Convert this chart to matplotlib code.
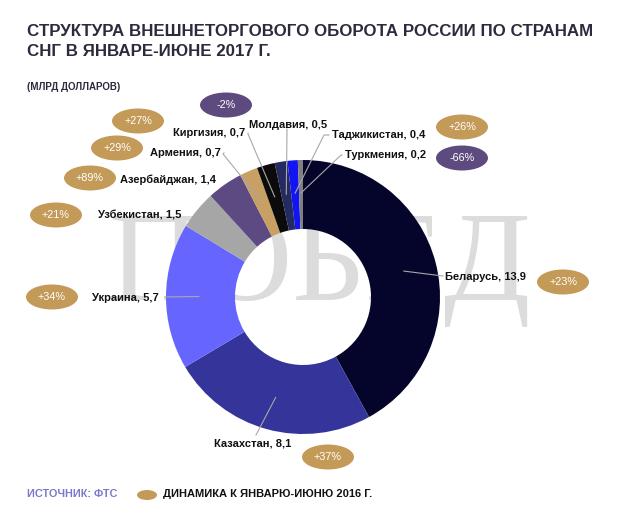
import matplotlib
matplotlib.use("Agg")
import numpy as np
import matplotlib.pyplot as plt
from matplotlib.patches import Ellipse

plt.rcParams['font.family'] = ['Liberation Sans', 'DejaVu Sans']

W, H = 640, 509

countries = ['Беларусь', 'Казахстан', 'Украина', 'Узбекистан', 'Азербайджан',
             'Армения', 'Киргизия', 'Молдавия', 'Таджикистан', 'Туркмения']
values = [13.9, 8.1, 5.7, 1.5, 1.4, 0.7, 0.7, 0.5, 0.4, 0.2]
changes = ['+23%', '+37%', '+34%', '+21%', '+89%', '+29%', '+27%', '-2%', '+26%', '-66%']
colors = ['#05052b', '#34349a', '#6666ff', '#a6a6a6', '#5e4a82',
          '#c9a063', '#0b0b0b', '#232b60', '#1414f0', '#808080']

tan = '#c49a58'
purple = '#5d4b80'

# label text anchor (x, y in px from top-left), alignment
label_pos = [(445, 277, 'left'), (214, 444, 'left'), (159, 298, 'right'),
             (181, 215, 'right'), (216, 180, 'right'), (221, 153, 'right'),
             (245, 133, 'right'), (249, 125, 'left'), (332, 135, 'left'),
             (345, 155, 'left')]
# leader line elbow (None = no line)
elbow = [(443, 276), (256, 435), (165, 297), None, None,
         (223, 154), (248, 134), (287, 129), (324, 135), (340, 156)]
# badge centres
badge_pos = [(563, 282), (328, 457), (52, 297), (56, 215), (90, 178),
             (117, 148), (138, 121), (226, 105), (462, 127), (462, 158)]

def Y(y):
    return H - y

fig = plt.figure(figsize=(6.4, 5.09), dpi=100)
ax = fig.add_axes([0, 0, 1, 1])

cx, cy, R = 303, 297, 137

# watermark
ax.text(108, Y(300), 'ПОБЕД', fontsize=92, family='Liberation Serif',
        color='#dcdcdc', ha='left', va='baseline', zorder=0)

wedges, _ = ax.pie(values, colors=colors, startangle=90, counterclock=False,
                   radius=R, center=(cx, Y(cy)),
                   wedgeprops=dict(width=69, linewidth=0))
for w in wedges:
    w.set_zorder(2)

for i, w in enumerate(wedges):
    lx, ly, ha = label_pos[i]
    ax.text(lx, Y(ly), f'{countries[i]}, {str(values[i]).replace(".", ",")}',
            fontsize=8, fontweight='bold', color='#111111',
            ha=ha, va='center', zorder=4)
    if elbow[i] is not None:
        mid = np.deg2rad((w.theta1 + w.theta2) / 2)
        r = 0.76 * R
        sx, sy = cx + r * np.cos(mid), Y(cy) + r * np.sin(mid)
        ex, ey = elbow[i]
        xs = [sx, ex]
        ys = [sy, Y(ey)]
        if i in (5, 6, 8, 9):
            xs.append(lx + (3 if ha == 'right' else -3))
            ys.append(Y(ly))
        ax.plot(xs, ys, color='#a8a8a8', lw=0.8, zorder=3)
    bx, by = badge_pos[i]
    fc = purple if changes[i].startswith('-') else tan
    ax.add_patch(Ellipse((bx, Y(by)), 52, 25, facecolor=fc, edgecolor='none', zorder=4))
    ax.text(bx, Y(by), changes[i], fontsize=7.8, color='white',
            ha='center', va='center', zorder=5)

# title
ax.text(27, Y(31), 'СТРУКТУРА ВНЕШНЕТОРГОВОГО ОБОРОТА РОССИИ ПО СТРАНАМ',
        fontsize=12.2, fontweight='bold', color='#2b2b3d', ha='left', va='center')
ax.text(27, Y(51), 'СНГ В ЯНВАРЕ-ИЮНЕ 2017 Г.',
        fontsize=12.2, fontweight='bold', color='#2b2b3d', ha='left', va='center')
ax.text(27, Y(87), '(МЛРД ДОЛЛАРОВ)', fontsize=7, fontweight='bold',
        color='#2b2b3d', ha='left', va='center')

# footer
ax.text(27, Y(494), 'ИСТОЧНИК: ФТС', fontsize=7.8, fontweight='bold',
        color='#7a7acc', ha='left', va='center')
ax.add_patch(Ellipse((147, Y(495)), 20, 10, facecolor=tan, edgecolor='none'))
ax.text(163, Y(494), 'ДИНАМИКА К ЯНВАРЮ-ИЮНЮ 2016 Г.', fontsize=8, fontweight='bold',
        color='#111111', ha='left', va='center')

ax.set_xlim(0, W)
ax.set_ylim(0, H)
ax.set_aspect('equal')
ax.axis('off')

fig.savefig('out.png', dpi=100, facecolor='white')
